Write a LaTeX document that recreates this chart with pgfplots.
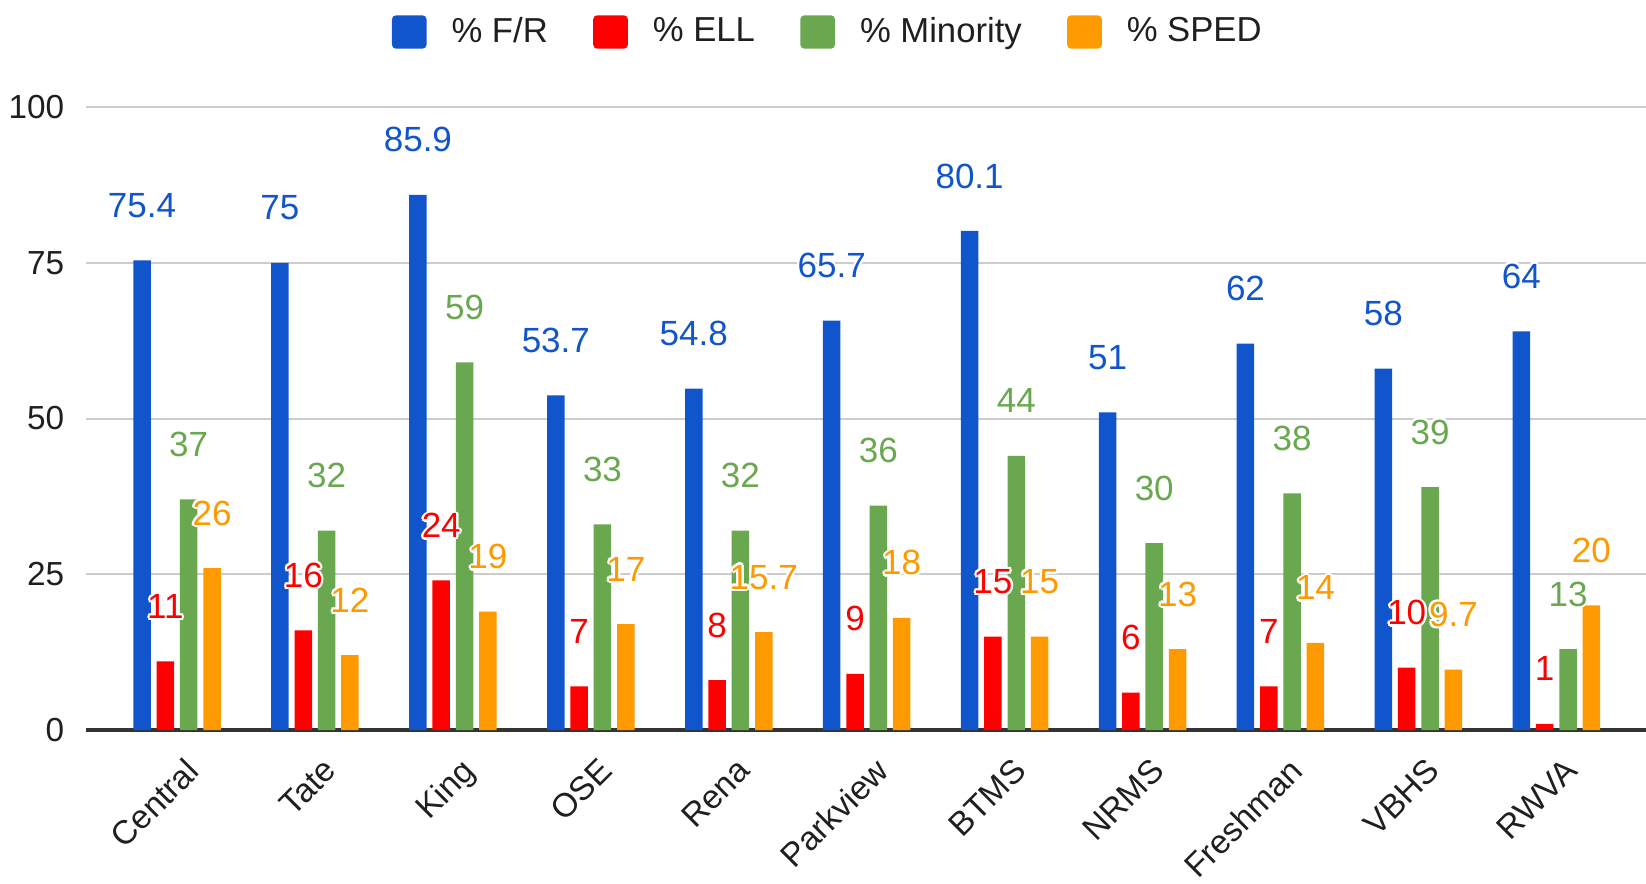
\documentclass[border=0pt]{standalone}
\usepackage{fontspec}
\setmainfont{Liberation Sans}
\usepackage{pgfplots}
\pgfplotsset{compat=1.18}
\usepackage{pgfplotstable}
\definecolor{cfr}{HTML}{1155CC}
\definecolor{cell}{HTML}{FF0000}
\definecolor{cmin}{HTML}{6AA84F}
\definecolor{csped}{HTML}{FF9900}
\newcommand\hc[3]{\rlap{\hspace*{#1}\raisebox{#2}{#3}}}
\newcommand\halo[1]{{\color{white}\hc{0.7pt}{0pt}{#1}\hc{-0.7pt}{0pt}{#1}\hc{0pt}{0.7pt}{#1}\hc{0pt}{-0.7pt}{#1}\hc{0.5pt}{0.5pt}{#1}\hc{-0.5pt}{0.5pt}{#1}\hc{0.5pt}{-0.5pt}{#1}\hc{-0.5pt}{-0.5pt}{#1}}#1}
\pgfplotstableread{
x fr ell min sped
0 75.4 11 37 26
1 75 16 32 12
2 85.9 24 59 19
3 53.7 7 33 17
4 54.8 8 32 15.7
5 65.7 9 36 18
6 80.1 15 44 15
7 51 6 30 13
8 62 7 38 14
9 58 10 39 9.7
10 64 1 13 20
}\data
\pgfplotsset{
  barp/.style={ybar, bar width=5.25pt, bar shift=#1, draw=none},
  lbl/.style 2 args={draw=none, mark=none, forget plot,
    nodes near coords={\halo{\pgfmathprintnumber{\pgfplotspointmeta}}},
    nodes near coords align=center,
    nodes near coords style={text=#2, anchor=center, xshift=#1, yshift=16.5pt, font=\fontsize{10.5}{12}\selectfont}},
}
\begin{document}
\begin{tikzpicture}
\path[use as bounding box] (-25.8pt,-46.2pt) rectangle (468pt,219pt);
\begin{axis}[
  at={(0,0)}, anchor=south west,
  scale only axis, width=468pt, height=186.9pt,
  xmin=-0.66, xmax=10.65, ymin=0, ymax=100,
  ytick={0,25,50,75,100},
  xtick={0,...,10},
  xticklabels={Central,Tate,King,OSE,Rena,Parkview,BTMS,NRMS,Freshman,VBHS,RWVA},
  axis line style={draw=none},
  major tick length=0pt,
  ymajorgrids, grid style={draw=black!20, line width=0.6pt},
  extra y ticks={0}, extra y tick labels={},
  extra y tick style={grid style={draw=black!80, line width=1.1pt}},
  tick label style={font=\fontsize{10}{12}\selectfont, text=black!88},
  yticklabel style={xshift=-3pt},
  xticklabel style={rotate=45, anchor=north east, inner sep=0pt, xshift=-4pt, yshift=-6.9pt},
  /pgf/number format/assume math mode=true,
  clip=false,
  legend columns=4,
  legend style={at={(axis description cs:0.477,1)}, anchor=center, yshift=22.5pt, draw=none, fill=none,
    font=\fontsize{10.4}{12}\selectfont, text=black!88,
    /tikz/every odd column/.append style={column sep=5.5pt},
    /tikz/every even column/.append style={column sep=11.6pt}},
  legend image code/.code={\fill[rounded corners=1.2pt] (0pt,-5pt) rectangle (10.4pt,5pt);},
]
\addplot[barp=-10.5pt, fill=cfr] table[x=x,y=fr]{\data};
\addplot[barp=-3.5pt, fill=cell] table[x=x,y=ell]{\data};
\addplot[barp=3.5pt, fill=cmin] table[x=x,y=min]{\data};
\addplot[barp=10.5pt, fill=csped] table[x=x,y=sped]{\data};
\legend{\% F/R, \% ELL, \% Minority, \% SPED}
\addplot[lbl={-10.5pt}{cfr}] table[x=x,y=fr]{\data};
\addplot[lbl={-3.5pt}{cell}] table[x=x,y=ell]{\data};
\addplot[lbl={3.5pt}{cmin}] table[x=x,y=min]{\data};
\addplot[lbl={10.5pt}{csped}] table[x=x,y=sped]{\data};
\end{axis}
\end{tikzpicture}
\end{document}
